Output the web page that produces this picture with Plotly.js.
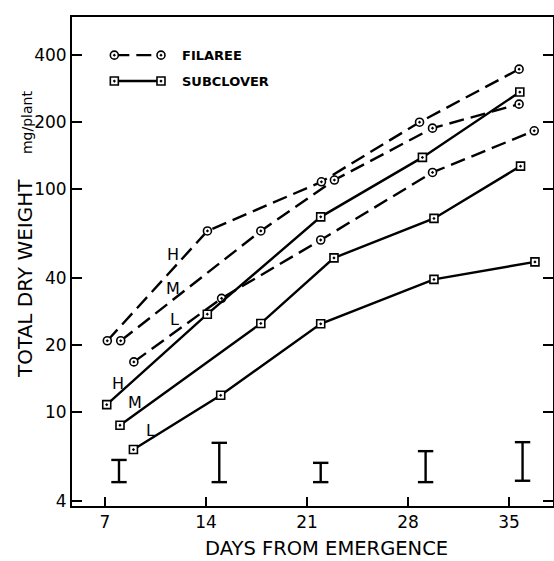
<!DOCTYPE html>
<html>
<head>
<meta charset="utf-8">
<script src="https://cdn.plot.ly/plotly-3.0.1.min.js"></script>
<style>html,body{margin:0;padding:0;background:#fff;}#chart{width:554px;height:561px;}</style>
</head>
<body>
<div id="chart"></div>
<script>
// ---- data ----
const filareeDaysH = [7.16, 14.1, 22.0, 28.8, 35.7];
const filareeH     = [20.9, 65, 108, 200, 346];
const filareeDaysM = [8.09, 17.8, 22.9, 29.7, 35.7];
const filareeM     = [20.9, 65, 110, 188, 241];
const filareeDaysL = [9.0, 15.08, 21.95, 29.7, 36.75];
const filareeL     = [16.8, 32.4, 59.2, 119, 183];

const subcloverDaysH = [7.12, 14.09, 21.95, 29.0, 35.75];
const subcloverH     = [10.8, 27.5, 75.2, 139, 273];
const subcloverDaysM = [8.04, 17.8, 22.87, 29.8, 35.8];
const subcloverM     = [8.73, 25, 49.2, 74, 127];
const subcloverDaysL = [8.97, 15.02, 21.95, 29.8, 36.8];
const subcloverL     = [6.79, 11.9, 24.9, 39.4, 47.2];

const lsdDays = [7.97, 14.92, 21.95, 29.22, 35.94];
const lsdLow  = [4.85, 4.85, 4.85, 4.85, 4.92];
const lsdHigh = [6.10, 7.28, 5.92, 6.68, 7.33];

const xTickVals = [7, 14, 21, 28, 35];
const yTickVals = [4, 10, 20, 40, 100, 200, 400];
const yTickText = ['4', '10', '20', '40', '100', '200', '400'];

const levelLabels = ['H', 'M', 'L'];
const filareeLabelDays = [11.73, 11.73, 11.85];
const filareeLabelVals = [51.2, 35.9, 26.1];
const subcloverLabelDays = [7.92, 9.08, 10.12];
const subcloverLabelVals = [13.4, 11.0, 8.24];

// ---- styles ----
const FONT = 'DejaVu Sans, Arial, sans-serif';
const LW = 2.4;
const DASH = '15px,7px';
const circleMarker = {symbol: 'circle-dot', size: 8, color: '#fff', line: {color: '#000', width: 1.6}};
const squareMarker = {symbol: 'square-dot', size: 8, color: '#fff', line: {color: '#000', width: 1.6}};

function series(x, y, dash, marker) {
  return {x: x, y: y, type: 'scatter', mode: 'lines+markers',
          line: {color: '#000', width: LW, dash: dash}, marker: marker,
          showlegend: false, hoverinfo: 'x+y'};
}

const traces = [
  series(filareeDaysH, filareeH, DASH, circleMarker),
  series(filareeDaysM, filareeM, DASH, circleMarker),
  series(filareeDaysL, filareeL, DASH, circleMarker),
  series(subcloverDaysH, subcloverH, 'solid', squareMarker),
  series(subcloverDaysM, subcloverM, 'solid', squareMarker),
  series(subcloverDaysL, subcloverL, 'solid', squareMarker)
];

// LSD bars
lsdDays.forEach(function (d, i) {
  traces.push({
    x: [d, d], y: [lsdLow[i], lsdHigh[i]], type: 'scatter', mode: 'lines+markers',
    line: {color: '#000', width: 2.4},
    marker: {symbol: 'line-ew', size: 11, color: '#000', line: {color: '#000', width: 2.4}},
    showlegend: false, hoverinfo: 'skip'
  });
});

// custom legend samples drawn on an overlay axis (fractions of the plot area)
const legendX = [0.088, 0.185];
const legendY = [0.922, 0.869];
traces.push({x: legendX, y: [legendY[0], legendY[0]], xaxis: 'x2', yaxis: 'y2', type: 'scatter',
  mode: 'lines+markers', line: {color: '#000', width: LW, dash: DASH}, marker: circleMarker,
  showlegend: false, hoverinfo: 'skip'});
traces.push({x: legendX, y: [legendY[1], legendY[1]], xaxis: 'x2', yaxis: 'y2', type: 'scatter',
  mode: 'lines+markers', line: {color: '#000', width: LW}, marker: squareMarker,
  showlegend: false, hoverinfo: 'skip'});

const annotations = [];
levelLabels.forEach(function (t, i) {
  annotations.push({x: filareeLabelDays[i], y: Math.log10(filareeLabelVals[i]), xref: 'x', yref: 'y',
    text: t, showarrow: false, font: {family: FONT, size: 16, color: '#000'}});
  annotations.push({x: subcloverLabelDays[i], y: Math.log10(subcloverLabelVals[i]), xref: 'x', yref: 'y',
    text: t, showarrow: false, font: {family: FONT, size: 16, color: '#000'}});
});
annotations.push({x: 0.2245, y: legendY[0], xref: 'paper', yref: 'paper', xanchor: 'left', yanchor: 'middle',
  text: 'FILAREE', showarrow: false, font: {family: FONT, size: 13, color: '#000', weight: 'bold'}});
annotations.push({x: 0.2245, y: legendY[1], xref: 'paper', yref: 'paper', xanchor: 'left', yanchor: 'middle',
  text: 'SUBCLOVER', showarrow: false, font: {family: FONT, size: 13, color: '#000', weight: 'bold'}});
// axis titles
annotations.push({x: 0.530, y: -0.087, xref: 'paper', yref: 'paper', xanchor: 'center', yanchor: 'middle',
  text: 'DAYS FROM EMERGENCE', showarrow: false, font: {family: FONT, size: 19.5, color: '#000'}});
annotations.push({x: -0.098, y: 0.556, xref: 'paper', yref: 'paper', xanchor: 'center', yanchor: 'middle',
  textangle: -90,
  text: 'TOTAL DRY WEIGHT&nbsp;&nbsp;&nbsp;&nbsp;<span style="font-size:14px">mg/plant</span>',
  showarrow: false, font: {family: FONT, size: 20, color: '#000'}});

const layout = {
  width: 554, height: 561,
  margin: {l: 72, r: 1, t: 17, b: 55, pad: 0},
  paper_bgcolor: '#fff', plot_bgcolor: '#fff',
  font: {family: FONT, color: '#000'},
  showlegend: false,
  xaxis: {
    type: 'linear', range: [4.713, 38.05], tickvals: xTickVals,
    ticks: 'inside', ticklen: 9, tickwidth: 2, tickcolor: '#000',
    showline: true, linewidth: 2, linecolor: '#000', mirror: true,
    showgrid: false, zeroline: false,
    tickfont: {family: FONT, size: 17, color: '#000'}
  },
  yaxis: {
    type: 'log', range: [Math.log10(3.79), Math.log10(593)],
    tickvals: yTickVals, ticktext: yTickText,
    ticks: 'inside', ticklen: 10, tickwidth: 2, tickcolor: '#000',
    showline: true, linewidth: 2, linecolor: '#000', mirror: 'ticks',
    showgrid: false, zeroline: false,
    tickfont: {family: FONT, size: 17, color: '#000'}
  },
  xaxis2: {overlaying: 'x', range: [0, 1], visible: false, anchor: 'y2'},
  yaxis2: {overlaying: 'y', range: [0, 1], visible: false, anchor: 'x2'},
  annotations: annotations
};

Plotly.newPlot('chart', traces, layout, {displayModeBar: false, staticPlot: true});
</script>
</body>
</html>
